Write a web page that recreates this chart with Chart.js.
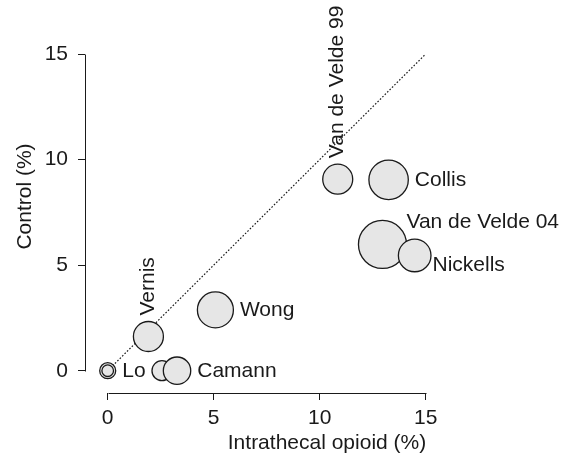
<!DOCTYPE html>
<html>
<head>
<meta charset="utf-8">
<script src="https://cdn.jsdelivr.net/npm/chart.js@4/dist/chart.umd.min.js"></script>
<style>
  html, body { margin: 0; padding: 0; background: #fff; }
  #wrap { width: 569px; height: 460px; }
</style>
</head>
<body>
<div id="wrap"><canvas id="c" width="569" height="460"></canvas></div>
<script>
// Trial-level complication rates: intrathecal opioid arm vs control arm
const studies    = ["Lo", "Lo", "Camann", "Camann", "Vernis", "Wong", "Van de Velde 99", "Collis", "Van de Velde 04", "Nickells"];
const opioidPct  = [0, 0, 2.56, 3.27, 1.92, 5.08, 10.85, 13.25, 12.96, 14.48];
const controlPct = [0, 0, 0, 0, 1.62, 2.88, 9.07, 9.04, 5.98, 5.46];
const bubbleSize = [8, 5.8, 10, 13.7, 15, 18, 15, 19.7, 24, 16.3];
const tickValues = [0, 5, 10, 15];
const identityLine = [0, 15];

const INK = '#1a1a1a';
const FONT = "'Liberation Sans', Arial, Helvetica, sans-serif";
const FS = 21;

// where each study name sits relative to its circle
const labelPlacement = {
  "Lo": "right", "Camann": "right", "Wong": "right", "Collis": "right",
  "Vernis": "up", "Van de Velde 99": "up",
  "Van de Velde 04": "upright", "Nickells": "downright"
};

const bubbles = studies.map((s, i) => ({ x: opioidPct[i], y: controlPct[i], r: bubbleSize[i] }));
const diagonal = identityLine.map(v => ({ x: v, y: v }));

// R-style axis lines running only from the first to the last tick
const axisLines = {
  id: 'axisLines',
  afterDraw(chart) {
    const { ctx, chartArea, scales: { x, y } } = chart;
    const lo = tickValues[0], hi = tickValues[tickValues.length - 1];
    ctx.save();
    ctx.strokeStyle = INK;
    ctx.lineWidth = 1;
    ctx.lineCap = 'butt';
    const by = Math.round(chartArea.bottom) + 0.5;
    const lx = Math.round(chartArea.left) + 0.5;
    ctx.beginPath();
    ctx.moveTo(Math.round(x.getPixelForValue(lo)) + 0.5, by);
    ctx.lineTo(Math.round(x.getPixelForValue(hi)) + 0.5, by);
    ctx.moveTo(lx, Math.round(y.getPixelForValue(lo)) + 0.5);
    ctx.lineTo(lx, Math.round(y.getPixelForValue(hi)) + 0.5);
    ctx.stroke();
    ctx.restore();
  }
};

// study names next to their circles
const studyLabels = {
  id: 'studyLabels',
  afterDatasetsDraw(chart) {
    const { ctx, scales: { x, y } } = chart;
    const anchor = {};
    studies.forEach((s, i) => {
      const right = x.getPixelForValue(opioidPct[i]) + bubbleSize[i];
      if (!anchor[s] || right > anchor[s].right) {
        anchor[s] = { i, right, cx: x.getPixelForValue(opioidPct[i]), cy: y.getPixelForValue(controlPct[i]), r: bubbleSize[i] };
      }
    });
    ctx.save();
    ctx.fillStyle = INK;
    ctx.font = FS + 'px ' + FONT;
    Object.keys(anchor).forEach(name => {
      const a = anchor[name];
      const place = labelPlacement[name];
      if (place === 'right') {
        ctx.textAlign = 'left';
        ctx.textBaseline = 'middle';
        ctx.fillText(name, a.right + 6.5, a.cy + 0.5);
      } else if (place === 'upright') {
        ctx.textAlign = 'left';
        ctx.textBaseline = 'alphabetic';
        ctx.fillText(name, a.cx + a.r, a.cy - 16.5);
      } else if (place === 'downright') {
        ctx.textAlign = 'left';
        ctx.textBaseline = 'alphabetic';
        ctx.fillText(name, a.cx + a.r + 1.5, a.cy + 16);
      } else if (place === 'up') {
        ctx.save();
        ctx.translate(a.cx + 5.5, a.cy - a.r - 6);
        ctx.rotate(-Math.PI / 2);
        ctx.textAlign = 'left';
        ctx.textBaseline = 'alphabetic';
        ctx.fillText(name, 0, 0);
        ctx.restore();
      }
    });
    ctx.restore();
  }
};

Chart.defaults.font.family = FONT;
Chart.defaults.font.size = FS;
Chart.defaults.color = INK;

const fixTicks = scale => { scale.ticks = tickValues.map(v => ({ value: v })); };
const noPad = s => { s.paddingTop = 0; s.paddingBottom = 0; s.paddingLeft = 0; s.paddingRight = 0; };

new Chart(document.getElementById('c'), {
  data: {
    datasets: [
      {
        type: 'bubble',
        data: bubbles,
        backgroundColor: '#e6e6e6',
        borderColor: INK,
        borderWidth: 1.3,
        order: 1,
        clip: false
      },
      {
        type: 'line',
        data: diagonal,
        borderColor: INK,
        borderWidth: 1.2,
        borderDash: [1.6, 1.8],
        pointRadius: 0,
        fill: false,
        order: 2
      }
    ]
  },
  options: {
    responsive: false,
    devicePixelRatio: 1,
    animation: false,
    events: [],
    layout: { padding: 0, autoPadding: false },
    plugins: { legend: { display: false }, tooltip: { enabled: false } },
    scales: {
      x: {
        type: 'linear',
        min: -1.071,
        max: 21.759,
        afterBuildTicks: fixTicks,
        afterFit: s => { s.height = 67; noPad(s); },
        border: { display: false },
        grid: { drawOnChartArea: false, drawTicks: true, tickLength: 7, tickColor: INK, tickWidth: 1 },
        ticks: { padding: 6, maxRotation: 0, autoSkip: false, color: INK, font: { size: FS } },
        title: { display: true, text: 'Intrathecal opioid (%)', color: INK, font: { size: FS }, padding: { top: 0, bottom: 4 } }
      },
      y: {
        type: 'linear',
        min: -1.056,
        max: 17.558,
        afterBuildTicks: fixTicks,
        afterFit: s => { s.width = 85; noPad(s); },
        border: { display: false },
        grid: { drawOnChartArea: false, drawTicks: true, tickLength: 7, tickColor: INK, tickWidth: 1 },
        ticks: { padding: 10, autoSkip: false, color: INK, font: { size: FS } },
        title: { display: true, text: 'Control (%)', color: INK, font: { size: FS }, padding: { top: 13, bottom: 0 } }
      }
    }
  },
  plugins: [axisLines, studyLabels]
});
</script>
</body>
</html>
